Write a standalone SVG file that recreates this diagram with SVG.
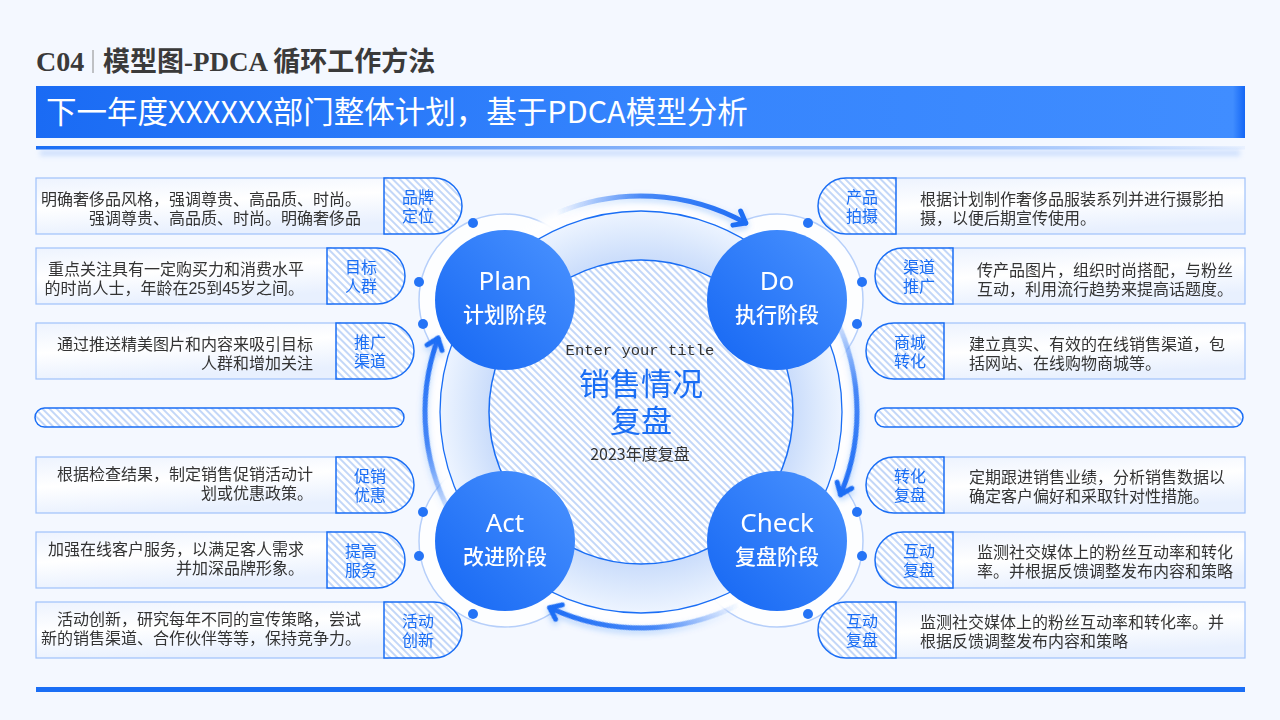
<svg xmlns="http://www.w3.org/2000/svg" width="1280" height="720" viewBox="0 0 1280 720">
<defs>
  <pattern id="hatch" patternUnits="userSpaceOnUse" width="5" height="5" patternTransform="rotate(-45)">
    <rect width="5" height="5" fill="#ffffff"/>
    <rect width="2" height="5" fill="#c3d7f8"/>
  </pattern>
  <linearGradient id="banner" x1="0" y1="0" x2="1" y2="0">
    <stop offset="0" stop-color="#1a6bf4"/>
    <stop offset="0.5" stop-color="#3584fd"/>
    <stop offset="0.99" stop-color="#408dff"/>
    <stop offset="1" stop-color="#1466f5"/>
  </linearGradient>
  <linearGradient id="uline" x1="0" y1="0" x2="1" y2="0">
    <stop offset="0" stop-color="#1a6ef5"/>
    <stop offset="0.55" stop-color="#8fb8fa"/>
    <stop offset="1" stop-color="#1a6ef5" stop-opacity="0.05"/>
  </linearGradient>
  <linearGradient id="boxFill" x1="0" y1="0" x2="0.3" y2="1">
    <stop offset="0" stop-color="#edf3fe"/>
    <stop offset="0.5" stop-color="#ffffff"/>
    <stop offset="1" stop-color="#e8f0fe"/>
  </linearGradient>
  <linearGradient id="stage" x1="0" y1="1" x2="1" y2="0">
    <stop offset="0" stop-color="#1466f3"/>
    <stop offset="1" stop-color="#4b93ff"/>
  </linearGradient>
  <radialGradient id="ringFill" cx="641" cy="412" r="201" gradientUnits="userSpaceOnUse">
    <stop offset="0.74" stop-color="#c8dbfb"/>
    <stop offset="0.88" stop-color="#dce9fd"/>
    <stop offset="1" stop-color="#edf4ff"/>
  </radialGradient>
  <linearGradient id="arrowGrad" gradientUnits="userSpaceOnUse" x1="774" y1="241.8" x2="857" y2="412">
    <stop offset="0" stop-color="#2a75f6" stop-opacity="0"/>
    <stop offset="0.45" stop-color="#2a75f6" stop-opacity="0.85"/>
    <stop offset="1" stop-color="#1f6ef5"/>
  </linearGradient>
  <filter id="blur3" x="-20%" y="-20%" width="140%" height="140%">
    <feGaussianBlur stdDeviation="3"/>
  </filter>
  <filter id="blur2" x="-20%" y="-50%" width="140%" height="300%">
    <feGaussianBlur stdDeviation="2.5"/>
  </filter>
  <filter id="arrowShadow" x="-30%" y="-30%" width="160%" height="160%">
    <feDropShadow dx="0" dy="3" stdDeviation="3" flood-color="#1a6ef5" flood-opacity="0.3"/>
  </filter>
  <g id="arrow">
    <path d="M774,241.8 A216,216 0 0 1 857,412" fill="none" stroke="url(#arrowGrad)" stroke-width="5" stroke-linecap="round"/>
    <path d="M849,401.8 L857,412 L865,401.8" fill="none" stroke="#1f6ef5" stroke-width="5" stroke-linecap="round" stroke-linejoin="round"/>
  </g>
</defs>
<style>
  .hdr{font-family:"Liberation Serif","Noto Sans CJK SC",serif;font-weight:bold;fill:#3a3a3a}
  .ban{font-family:"Noto Sans CJK SC",sans-serif;fill:#ffffff;font-size:30.5px}
  .box{fill:url(#boxFill);stroke:#9fc2fa;stroke-width:1.2}
  .tab{fill:url(#hatch);stroke:#1a6ef5;stroke-width:1.5}
  .pill{fill:url(#hatch);stroke:#1a6ef5;stroke-width:1.5}
  .bt{font-family:"Liberation Sans","Noto Sans CJK SC",sans-serif;font-size:16px;fill:#333333}
  .bl{text-anchor:end}
  .tt{font-family:"Liberation Sans","Noto Sans CJK SC",sans-serif;font-size:16px;fill:#1a6ef5;text-anchor:middle}
  .halo{fill:#ffffff;fill-opacity:0.8;stroke:#b6cffa;stroke-width:1.5}
  .dot{fill:#2574f6}
  .st{fill:url(#stage)}
  .sl{fill:#ffffff;text-anchor:middle}
  .sen{font-family:"Noto Sans","Noto Sans CJK SC",sans-serif;font-size:26px}
  .scn{font-family:"Noto Sans CJK SC",sans-serif;font-size:21px;font-weight:500}
</style>

<rect width="1280" height="720" fill="#f4f8ff"/>

<g id="header">
  <text class="hdr" x="36" y="71" font-size="28">C04</text>
  <line x1="93" y1="50" x2="93" y2="73" stroke="#8a8a8a" stroke-width="1"/>
  <text class="hdr" x="103" y="71" font-size="27">模型图-PDCA 循环工作方法</text>
  <rect x="36" y="86" width="1209" height="52" fill="url(#banner)"/>
  <text class="ban" x="46" y="123">下一年度XXXXXX部门整体计划，基于PDCA模型分析</text>
  <rect x="40" y="150" width="1200" height="6" fill="#a9c8fb" opacity="0.5" filter="url(#blur2)"/>
  <rect x="36" y="146" width="1209" height="3.5" fill="url(#uline)"/>
</g>

<g id="halos">
  <circle class="halo" cx="505" cy="300" r="86"/>
  <circle class="halo" cx="777" cy="300" r="86"/>
  <circle class="halo" cx="505" cy="541" r="86"/>
  <circle class="halo" cx="777" cy="541" r="86"/>
</g>

<g id="center-ring">
  <circle cx="641" cy="412" r="216" fill="#ffffff" opacity="0.95" filter="url(#blur3)"/>
  <circle cx="641" cy="412" r="201" fill="url(#ringFill)" stroke="#1a6ef5" stroke-width="1.3"/>
  <circle cx="641" cy="412" r="152" fill="url(#hatch)" stroke="#1a6ef5" stroke-width="1.5"/>
</g>

<g id="connectors" filter="url(#arrowShadow)">
  <use href="#arrow" transform="rotate(-61 641 412)"/>
  <use href="#arrow" transform="rotate(22.5 641 412)"/>
  <use href="#arrow" transform="rotate(115 641 412)"/>
  <use href="#arrow" transform="rotate(200 641 412)"/>
</g>

<g id="dots">
  <circle class="dot" cx="473" cy="223" r="5"/>
  <circle class="dot" cx="419" cy="282" r="5"/>
  <circle class="dot" cx="423" cy="324" r="5"/>
  <circle class="dot" cx="808" cy="223" r="5"/>
  <circle class="dot" cx="862" cy="282" r="5"/>
  <circle class="dot" cx="857" cy="324" r="5"/>
  <circle class="dot" cx="423" cy="512" r="5"/>
  <circle class="dot" cx="419" cy="556" r="5"/>
  <circle class="dot" cx="473" cy="614" r="5"/>
  <circle class="dot" cx="857" cy="512" r="5"/>
  <circle class="dot" cx="862" cy="556" r="5"/>
  <circle class="dot" cx="808" cy="614" r="5"/>
</g>

<g id="plan">
  <circle class="st" cx="505" cy="300" r="70"/>
  <text class="sl"><tspan class="sen" x="505" y="290">Plan</tspan><tspan class="scn" x="505" y="322">计划阶段</tspan></text>
</g>
<g id="do">
  <circle class="st" cx="777" cy="300" r="70"/>
  <text class="sl"><tspan class="sen" x="777" y="290">Do</tspan><tspan class="scn" x="777" y="322">执行阶段</tspan></text>
</g>
<g id="act">
  <circle class="st" cx="505" cy="541" r="70"/>
  <text class="sl"><tspan class="sen" x="505" y="532">Act</tspan><tspan class="scn" x="505" y="564">改进阶段</tspan></text>
</g>
<g id="check">
  <circle class="st" cx="777" cy="541" r="70"/>
  <text class="sl"><tspan class="sen" x="777" y="532">Check</tspan><tspan class="scn" x="777" y="564">复盘阶段</tspan></text>
</g>

<g id="center-title">
  <text x="640" y="355" text-anchor="middle" font-family="'Liberation Mono','DejaVu Sans Mono',monospace" font-size="15.5" fill="#333333">Enter your title</text>
  <text text-anchor="middle" font-family="'Liberation Sans','Noto Sans CJK SC',sans-serif" font-size="31" fill="#1a6ef5"><tspan x="641" y="395">销售情况</tspan><tspan x="641" y="432">复盘</tspan></text>
  <text x="640" y="460" text-anchor="middle" font-family="'Noto Sans CJK SC',sans-serif" font-size="16" fill="#333333">2023年度复盘</text>
</g>

<g id="pill-left"><rect class="pill" x="35" y="408" width="369" height="19" rx="9.5"/></g>
<g id="pill-right"><rect class="pill" x="875" y="408" width="368" height="19" rx="9.5"/></g>

<g id="card-l1">
  <rect class="box" x="36" y="178" width="352" height="56"/>
  <path class="tab" d="M384,178 H434 A28,28 0 0 1 434,234 H384 Z"/>
  <text class="bt bl"><tspan x="361" y="205">明确奢侈品风格，强调尊贵、高品质、时尚。</tspan><tspan x="361" y="224">强调尊贵、高品质、时尚。明确奢侈品</tspan></text>
  <text class="tt"><tspan x="418" y="203">品牌</tspan><tspan x="418" y="222">定位</tspan></text>
</g>
<g id="card-l2">
  <rect class="box" x="36" y="248" width="295" height="56"/>
  <path class="tab" d="M327,248 H377 A28,28 0 0 1 377,304 H327 Z"/>
  <text class="bt bl"><tspan x="304" y="275">重点关注具有一定购买力和消费水平</tspan><tspan x="304" y="294">的时尚人士，年龄在25到45岁之间。</tspan></text>
  <text class="tt"><tspan x="361" y="273">目标</tspan><tspan x="361" y="292">人群</tspan></text>
</g>
<g id="card-l3">
  <rect class="box" x="36" y="323" width="304" height="56"/>
  <path class="tab" d="M336,323 H386 A28,28 0 0 1 386,379 H336 Z"/>
  <text class="bt bl"><tspan x="313" y="350">通过推送精美图片和内容来吸引目标</tspan><tspan x="313" y="369">人群和增加关注</tspan></text>
  <text class="tt"><tspan x="370" y="348">推广</tspan><tspan x="370" y="367">渠道</tspan></text>
</g>
<g id="card-l4">
  <rect class="box" x="36" y="457" width="304" height="56"/>
  <path class="tab" d="M336,457 H386 A28,28 0 0 1 386,513 H336 Z"/>
  <text class="bt bl"><tspan x="313" y="480">根据检查结果，制定销售促销活动计</tspan><tspan x="313" y="499">划或优惠政策。</tspan></text>
  <text class="tt"><tspan x="370" y="482">促销</tspan><tspan x="370" y="501">优惠</tspan></text>
</g>
<g id="card-l5">
  <rect class="box" x="36" y="532" width="295" height="56"/>
  <path class="tab" d="M327,532 H377 A28,28 0 0 1 377,588 H327 Z"/>
  <text class="bt bl"><tspan x="304" y="555">加强在线客户服务，以满足客人需求</tspan><tspan x="304" y="574">并加深品牌形象。</tspan></text>
  <text class="tt"><tspan x="361" y="557">提高</tspan><tspan x="361" y="576">服务</tspan></text>
</g>
<g id="card-l6">
  <rect class="box" x="36" y="602" width="352" height="56"/>
  <path class="tab" d="M384,602 H434 A28,28 0 0 1 434,658 H384 Z"/>
  <text class="bt bl"><tspan x="361" y="625">活动创新，研究每年不同的宣传策略，尝试</tspan><tspan x="361" y="644">新的销售渠道、合作伙伴等等，保持竞争力。</tspan></text>
  <text class="tt"><tspan x="418" y="627">活动</tspan><tspan x="418" y="646">创新</tspan></text>
</g>

<g id="card-r1">
  <rect class="box" x="892" y="178" width="353" height="56"/>
  <path class="tab" d="M896,178 H846 A28,28 0 0 0 846,234 H896 Z"/>
  <text class="bt"><tspan x="920" y="205">根据计划制作奢侈品服装系列并进行摄影拍</tspan><tspan x="920" y="224">摄，以便后期宣传使用。</tspan></text>
  <text class="tt"><tspan x="862" y="203">产品</tspan><tspan x="862" y="222">拍摄</tspan></text>
</g>
<g id="card-r2">
  <rect class="box" x="949" y="248" width="296" height="56"/>
  <path class="tab" d="M953,248 H903 A28,28 0 0 0 903,304 H953 Z"/>
  <text class="bt"><tspan x="977" y="276">传产品图片，组织时尚搭配，与粉丝</tspan><tspan x="977" y="295">互动，利用流行趋势来提高话题度。</tspan></text>
  <text class="tt"><tspan x="919" y="273">渠道</tspan><tspan x="919" y="292">推广</tspan></text>
</g>
<g id="card-r3">
  <rect class="box" x="940" y="323" width="305" height="56"/>
  <path class="tab" d="M944,323 H894 A28,28 0 0 0 894,379 H944 Z"/>
  <text class="bt"><tspan x="969" y="350">建立真实、有效的在线销售渠道，包</tspan><tspan x="969" y="369">括网站、在线购物商城等。</tspan></text>
  <text class="tt"><tspan x="910" y="348">商城</tspan><tspan x="910" y="367">转化</tspan></text>
</g>
<g id="card-r4">
  <rect class="box" x="940" y="457" width="305" height="56"/>
  <path class="tab" d="M944,457 H894 A28,28 0 0 0 894,513 H944 Z"/>
  <text class="bt"><tspan x="969" y="483">定期跟进销售业绩，分析销售数据以</tspan><tspan x="969" y="502">确定客户偏好和采取针对性措施。</tspan></text>
  <text class="tt"><tspan x="910" y="482">转化</tspan><tspan x="910" y="501">复盘</tspan></text>
</g>
<g id="card-r5">
  <rect class="box" x="949" y="532" width="296" height="56"/>
  <path class="tab" d="M953,532 H903 A28,28 0 0 0 903,588 H953 Z"/>
  <text class="bt"><tspan x="977" y="558">监测社交媒体上的粉丝互动率和转化</tspan><tspan x="977" y="577">率。并根据反馈调整发布内容和策略</tspan></text>
  <text class="tt"><tspan x="919" y="557">互动</tspan><tspan x="919" y="576">复盘</tspan></text>
</g>
<g id="card-r6">
  <rect class="box" x="892" y="602" width="353" height="56"/>
  <path class="tab" d="M896,602 H846 A28,28 0 0 0 846,658 H896 Z"/>
  <text class="bt"><tspan x="920" y="628">监测社交媒体上的粉丝互动率和转化率。并</tspan><tspan x="920" y="647">根据反馈调整发布内容和策略</tspan></text>
  <text class="tt"><tspan x="862" y="627">互动</tspan><tspan x="862" y="646">复盘</tspan></text>
</g>

<g id="footer">
  <rect x="36" y="687" width="1209" height="5" fill="#1a6ef5"/>
</g>
</svg>
